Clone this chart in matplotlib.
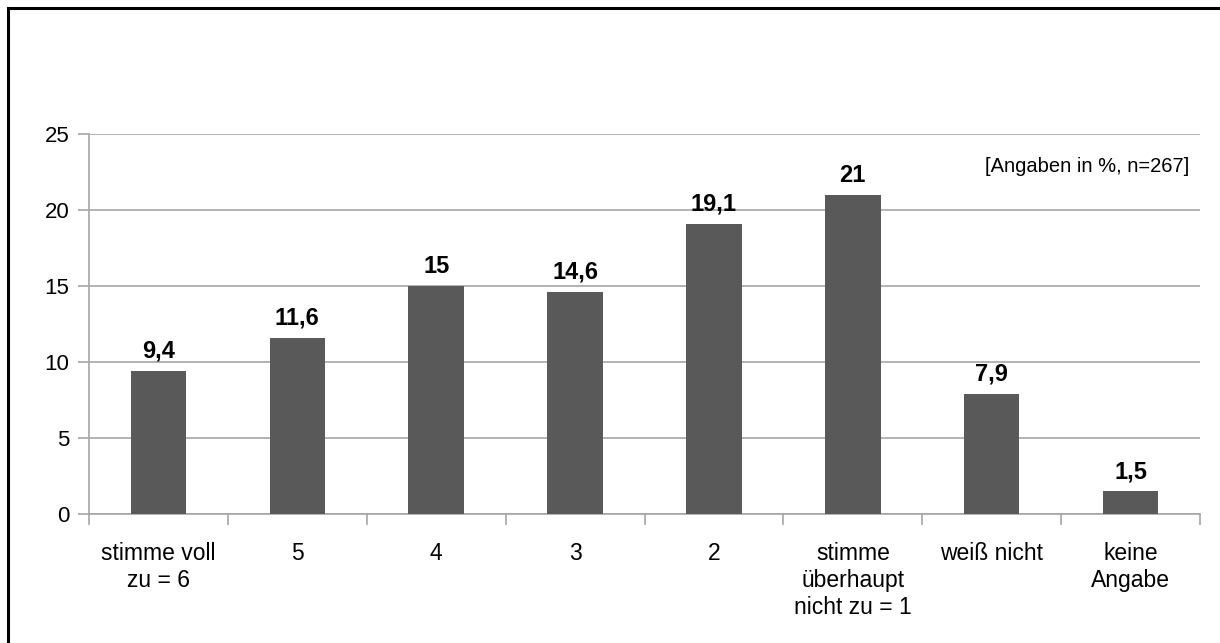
import matplotlib
matplotlib.use("Agg")
import matplotlib.pyplot as plt
from matplotlib.patches import Rectangle

categories = ["stimme voll\nzu = 6", "5", "4", "3", "2",
              "stimme\nüberhaupt\nnicht zu = 1", "weiß nicht", "keine\nAngabe"]
values = [9.4, 11.6, 15, 14.6, 19.1, 21, 7.9, 1.5]
value_labels = ["9,4", "11,6", "15", "14,6", "19,1", "21", "7,9", "1,5"]
yticks = [0, 5, 10, 15, 20, 25]
note = "[Angaben in %, n=267]"

plt.rcParams['font.family'] = ['Liberation Sans', 'DejaVu Sans']

W, H = 1220, 643
fig = plt.figure(figsize=(W/100, H/100), dpi=100)
fig.patches.append(Rectangle((8/W, -0.05), 1.2, 1 - 8/H + 0.05, transform=fig.transFigure,
                             fill=False, edgecolor='black', linewidth=2.2, zorder=10))

ax = fig.add_axes([89/W, 1 - 514/H, (1200 - 89)/W, (514 - 134)/H])
x = list(range(len(values)))
ax.bar(x, values, width=0.4, color='#595959', zorder=3)
ax.set_xlim(-0.5, len(values) - 0.5)
ax.set_ylim(0, 25)
ax.set_yticks(yticks)
ax.set_yticklabels([str(t) for t in yticks], fontsize=16)
ax.yaxis.grid(True, color='#a6a6a6', linewidth=1.2, zorder=0)
ax.set_axisbelow(True)

ax.set_xticks([i - 0.5 for i in range(len(values) + 1)])
ax.set_xticklabels([])
ax.set_xticks(x, minor=True)
ax.set_xticklabels(categories, minor=True, fontsize=16.5, linespacing=1.22, va='top')
ax.tick_params(axis='x', which='major', length=8, width=1.2, color='#a6a6a6', direction='out')
ax.tick_params(axis='x', which='minor', length=0, pad=20)
ax.tick_params(axis='y', length=8, width=1.2, color='#a6a6a6', direction='out', pad=6)

for s in ['top', 'right']:
    ax.spines[s].set_visible(False)
for s in ['left', 'bottom']:
    ax.spines[s].set_color('#a6a6a6')
    ax.spines[s].set_linewidth(1.2)

for xi, v, lab in zip(x, values, value_labels):
    ax.annotate(lab, (xi, v), xytext=(0, 9.5), textcoords='offset points',
                ha='center', va='baseline', fontsize=17, fontweight='bold')

ax.text(0.99, 0.915, note, transform=ax.transAxes, ha='right', va='center', fontsize=14.5)

fig.savefig("out.png", dpi=100)
